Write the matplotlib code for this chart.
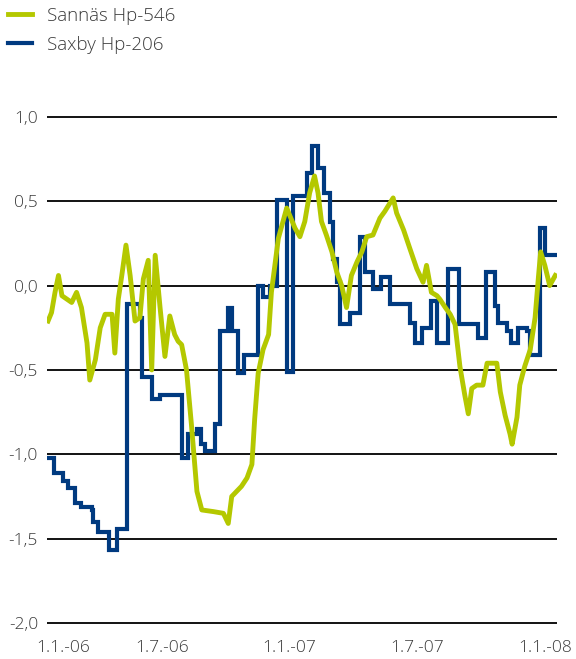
import matplotlib
matplotlib.use("Agg")
import matplotlib.pyplot as plt

# days since 1.1.2006
sannas_days = [0, 5, 10, 15, 20, 27, 34, 41, 48, 56, 60, 68, 75, 82, 92, 96, 101, 106, 112, 118,
               125, 132, 137, 144, 149, 154, 161, 168, 175, 182, 187, 192, 199, 206, 214, 221, 238,
               252, 259, 264, 271, 278, 286, 293, 297, 302, 309, 317, 321, 326, 331, 343, 355, 362,
               369, 376, 383, 388, 393, 400, 408, 415, 422, 429, 436, 444, 451, 458, 467, 477, 484,
               496, 501, 511, 520, 530, 539, 544, 551, 559, 563, 571, 578, 585, 592, 599, 604, 609,
               616, 625, 631, 645, 650, 657, 664, 667, 674, 678, 685, 693, 700, 705, 708, 714, 721, 729]
sannas_vals = [-0.21, -0.16, -0.04, 0.06, -0.06, -0.08, -0.10, -0.04, -0.13, -0.34, -0.56, -0.44,
               -0.25, -0.17, -0.17, -0.40, -0.08, 0.06, 0.24, 0.06, -0.21, -0.19, 0.04, 0.15, -0.50,
               0.18, -0.13, -0.42, -0.18, -0.29, -0.33, -0.35, -0.50, -0.82, -1.22, -1.33, -1.34,
               -1.35, -1.41, -1.25, -1.22, -1.19, -1.14, -1.06, -0.79, -0.52, -0.38, -0.29, -0.04,
               0.12, 0.28, 0.46, 0.34, 0.29, 0.38, 0.55, 0.65, 0.55, 0.38, 0.30, 0.20, 0.08, 0.00,
               -0.13, 0.06, 0.14, 0.20, 0.29, 0.30, 0.40, 0.44, 0.52, 0.43, 0.33, 0.22, 0.10, 0.02,
               0.12, -0.04, -0.06, -0.08, -0.13, -0.17, -0.23, -0.48, -0.65, -0.76, -0.61, -0.59,
               -0.59, -0.46, -0.46, -0.63, -0.77, -0.88, -0.94, -0.78, -0.59, -0.48, -0.38, -0.19,
               0.06, 0.20, 0.12, 0.00, 0.06]

saxby_days = [0, 9, 22, 29, 39, 48, 63, 65, 72, 87, 99, 114, 132, 135, 149, 161, 192, 201, 214,
              220, 226, 240, 247, 259, 264, 273, 281, 302, 309, 319, 329, 343, 352, 372, 379, 388,
              396, 405, 410, 415, 420, 434, 448, 456, 467, 479, 491, 520, 527, 537, 551, 559, 575,
              590, 618, 630, 642, 647, 659, 666, 676, 688, 693, 707, 714, 730]
saxby_vals = [-1.02, -1.11, -1.16, -1.20, -1.29, -1.31, -1.33, -1.40, -1.46, -1.57, -1.44, -0.11,
              -0.19, -0.54, -0.67, -0.65, -1.02, -0.88, -0.85, -0.94, -0.98, -0.82, -0.27, -0.13,
              -0.27, -0.52, -0.41, 0.00, -0.07, 0.00, 0.51, -0.51, 0.53, 0.67, 0.83, 0.70, 0.55,
              0.38, 0.16, 0.02, -0.23, -0.16, 0.29, 0.08, -0.02, 0.05, -0.11, -0.22, -0.34, -0.25,
              -0.09, -0.34, 0.10, -0.23, -0.31, 0.08, -0.12, -0.22, -0.27, -0.34, -0.25, -0.27,
              -0.41, 0.34, 0.18, 0.18]

tick_pos = [22, 164, 346, 530, 714]
tick_labels = ["1.1.-06", "1.7.-06", "1.1.-07", "1.7.-07", "1.1.-08"]
y_ticks = [-2.0, -1.5, -1.0, -0.5, 0.0, 0.5, 1.0]

green = "#b4c800"
blue = "#003a80"
txt = "#3a3a3a"

plt.rcParams["font.family"] = ["Open Sans", "DejaVu Sans"]
plt.rcParams["font.weight"] = "light"

fig = plt.figure(figsize=(5.76, 6.59), dpi=100)
ax = fig.add_axes([47 / 576, (659 - 631.4) / 659, 510 / 576, 522.9 / 659])

l2, = ax.plot(saxby_days, saxby_vals, drawstyle="steps-post", color=blue, lw=3.0,
              solid_joinstyle="miter", label="Saxby Hp-206", zorder=3)
l1, = ax.plot(sannas_days, sannas_vals, color=green, lw=3.5, label="Sannäs Hp-546", zorder=4)

ax.set_xlim(-1.5, 731.5)
ax.set_ylim(-2.05, 1.05)
ax.set_yticks(y_ticks)
ax.set_yticklabels([f"{v:.1f}".replace(".", ",") for v in y_ticks])
ax.set_xticks(tick_pos)
ax.set_xticklabels(tick_labels)
ax.grid(axis="y", color="black", lw=1.3)
ax.set_axisbelow(True)
for s in ax.spines.values():
    s.set_visible(False)
ax.tick_params(length=0, labelsize=12.5, labelcolor=txt, pad=6.5)

fig.legend(handles=[l1, l2], loc="upper left", bbox_to_anchor=(8 / 576, 1 - 7 / 659),
           frameon=False, fontsize=13.5, labelcolor=txt, handlelength=1.3,
           handletextpad=0.8, labelspacing=0.56, borderaxespad=0, borderpad=0)

plt.savefig("out.png", dpi=100)
